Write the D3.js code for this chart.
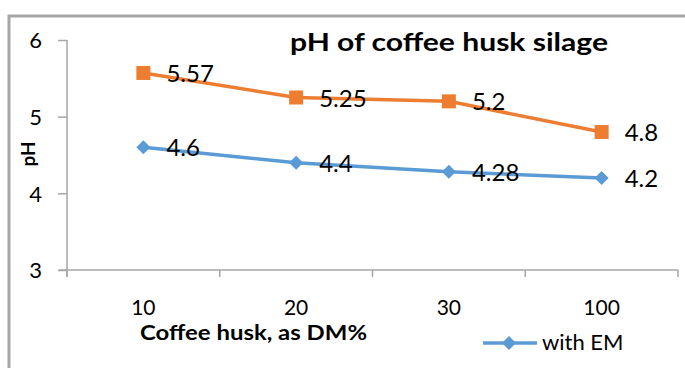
<!DOCTYPE html>
<html><head><meta charset="utf-8">
<script src="https://cdn.jsdelivr.net/npm/d3@7/dist/d3.min.js"></script>
<style>body{margin:0;background:#fff}svg{display:block}text{font-family:Lato,"Open Sans",sans-serif}</style>
</head><body>
<svg id="c" width="685" height="368"></svg>
<script>
const categories = ["10","20","30","100"];
const withoutEM = [5.57, 5.25, 5.2, 4.8];
const withEM = [4.6, 4.4, 4.28, 4.2];
const yTicks = [3,4,5,6];
const labelsWithout = ["5.57","5.25","5.2","4.8"];
const labelsWith = ["4.6","4.4","4.28","4.2"];

const svg = d3.select("#c");
// frame
svg.append("path").attr("d","M9,368 V16 H685").attr("fill","none").attr("stroke","#a6a6a6").attr("stroke-width",3);

const x = d3.scaleBand().domain(categories).range([67,678]);
const y = d3.scaleLinear().domain([3,6]).range([270,40]);

const yAxis = svg.append("g").attr("transform","translate(67,0)")
  .call(d3.axisLeft(y).tickValues(yTicks).tickSize(9).tickPadding(16).tickFormat(d3.format("d")));
yAxis.select(".domain").attr("stroke","#a6a6a6").attr("stroke-width",1.5).attr("d","M0,40V277");
yAxis.selectAll(".tick line").attr("stroke","#a6a6a6").attr("stroke-width",1.5);
yAxis.selectAll("text").attr("font-size",22).attr("fill","#000").attr("dy","0.36em");

const xAxis = svg.append("g").attr("transform","translate(0,270)")
  .call(d3.axisBottom(x).tickSize(0));
xAxis.select(".domain").attr("stroke","#a6a6a6").attr("stroke-width",1.5).attr("d","M59,0H678");
xAxis.selectAll("text").attr("font-size",21).attr("fill","#000").attr("y",45).attr("dy",0);
// category boundary ticks
const bounds = categories.map(c=>x(c)).concat([x.range()[1]]);
svg.append("g").selectAll("line").data(bounds).join("line")
  .attr("x1",d=>d).attr("x2",d=>d).attr("y1",270).attr("y2",277).attr("stroke","#a6a6a6").attr("stroke-width",1.5);

const cx = c => x(c) + x.bandwidth()/2;
const line = d3.line().x((d,i)=>cx(categories[i])).y(d=>y(d));

function series(vals, labels, color, shape){
  svg.append("path").datum(vals).attr("d",line).attr("fill","none").attr("stroke",color).attr("stroke-width",3.5);
  svg.append("g").selectAll("path").data(vals).join("path")
    .attr("transform",(d,i)=>`translate(${cx(categories[i])},${y(d)})`)
    .attr("d", shape==="square" ? "M-7,-7H7V7H-7Z" : "M0,-7L7,0L0,7L-7,0Z")
    .attr("fill",color);
  svg.append("g").selectAll("text").data(vals).join("text")
    .attr("x",(d,i)=>cx(categories[i])+23).attr("y",d=>y(d)+9)
    .attr("font-size",24).attr("fill","#000").text((d,i)=>labels[i]);
}
series(withoutEM, labelsWithout, "#ED7D31", "square");
series(withEM, labelsWith, "#5B9BD5", "diamond");

svg.append("text").attr("x",290).attr("y",51)
  .attr("font-size",24).attr("font-weight","bold")
  .attr("textLength",318).attr("lengthAdjust","spacingAndGlyphs").text("pH of coffee husk silage");
svg.append("text").attr("x",140).attr("y",340)
  .attr("font-size",20).attr("font-weight","bold")
  .attr("textLength",227).attr("lengthAdjust","spacingAndGlyphs").text("Coffee husk, as DM%");
svg.append("text").attr("transform","translate(35,154) rotate(-90)").attr("text-anchor","middle")
  .attr("font-size",19).attr("font-weight","bold").text("pH");

// legend
svg.append("line").attr("x1",483).attr("x2",537).attr("y1",343).attr("y2",343).attr("stroke","#5B9BD5").attr("stroke-width",3.5);
svg.append("path").attr("transform","translate(509,343)").attr("d","M0,-7L7,0L0,7L-7,0Z").attr("fill","#5B9BD5");
svg.append("text").attr("x",542).attr("y",350).attr("font-size",22).text("with EM");
</script>
</body></html>
